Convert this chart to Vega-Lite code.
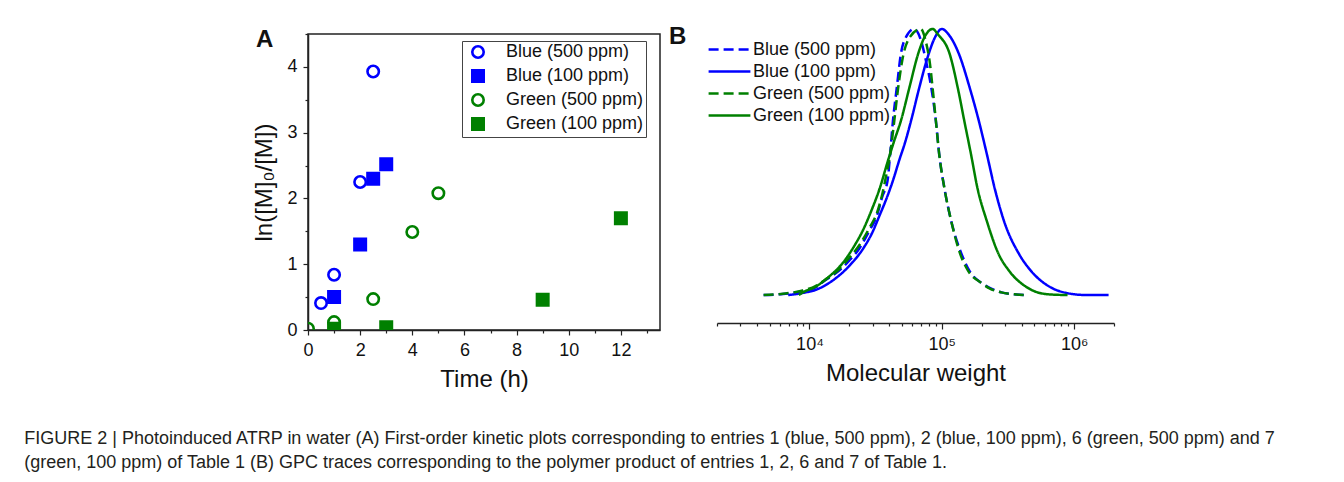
{
  "$schema": "https://vega.github.io/schema/vega-lite/v6.json",
  "padding": {"left": 24, "top": 23, "right": 5, "bottom": 5},
  "background": "white",
  "config": {
    "font": "Liberation Sans",
    "axis": {"domainColor": "#222", "tickColor": "#222", "labelColor": "#111", "titleColor": "#111", "titleFontWeight": "normal", "grid": false, "domainWidth": 1.5, "tickWidth": 1.2},
    "legend": {"labelColor": "#111"}
  },
  "title": {
    "text": [
      "FIGURE 2 | Photoinduced ATRP in water (A) First-order kinetic plots corresponding to entries 1 (blue, 500 ppm), 2 (blue, 100 ppm), 6 (green, 500 ppm) and 7",
      "(green, 100 ppm) of Table 1 (B) GPC traces corresponding to the polymer product of entries 1, 2, 6 and 7 of Table 1."
    ],
    "orient": "bottom",
    "anchor": "start",
    "fontSize": 18,
    "fontWeight": "normal",
    "lineHeight": 24,
    "color": "#231f20",
    "offset": 38,
    "dx": -228
  },
  "bounds": "flush",
  "spacing": 57,
  "resolve": {
    "scale": {"color": "independent", "strokeDash": "independent", "stroke": "independent", "fill": "independent", "shape": "independent"},
    "legend": {"color": "independent", "strokeDash": "independent", "stroke": "independent", "fill": "independent", "shape": "independent"}
  },
  "hconcat": [
    {
      "width": 352,
      "height": 296,
      "title": {"text": "A", "anchor": "start", "frame": "group", "dx": -52, "fontSize": 24, "fontWeight": "bold", "baseline": "alphabetic", "offset": 0, "dy": 38, "color": "#111"},
      "view": {"stroke": "#222", "strokeWidth": 1.5},
      "data": {"values": [
        {"t": 0.5, "v": 0.41, "series": "Blue (500 ppm)"},
        {"t": 1, "v": 0.84, "series": "Blue (500 ppm)"},
        {"t": 2, "v": 2.25, "series": "Blue (500 ppm)"},
        {"t": 2.5, "v": 3.93, "series": "Blue (500 ppm)"},
        {"t": 1, "v": 0.5, "series": "Blue (100 ppm)"},
        {"t": 2, "v": 1.3, "series": "Blue (100 ppm)"},
        {"t": 2.5, "v": 2.3, "series": "Blue (100 ppm)"},
        {"t": 3, "v": 2.52, "series": "Blue (100 ppm)"},
        {"t": 0, "v": 0.02, "series": "Green (500 ppm)"},
        {"t": 1, "v": 0.12, "series": "Green (500 ppm)"},
        {"t": 2.5, "v": 0.47, "series": "Green (500 ppm)"},
        {"t": 4, "v": 1.49, "series": "Green (500 ppm)"},
        {"t": 5, "v": 2.08, "series": "Green (500 ppm)"},
        {"t": 1, "v": 0.02, "series": "Green (100 ppm)"},
        {"t": 3, "v": 0.04, "series": "Green (100 ppm)"},
        {"t": 9, "v": 0.46, "series": "Green (100 ppm)"},
        {"t": 12, "v": 1.7, "series": "Green (100 ppm)"}
      ]},
      "mark": {"type": "point", "clip": true, "strokeWidth": 2.6, "opacity": 1, "size": 130},
      "encoding": {
        "x": {"field": "t", "type": "quantitative", "scale": {"domain": [0, 13.5], "nice": false, "zero": false},
          "axis": {"title": "Time (h)", "values": [0,1,2,3,4,5,6,7,8,9,10,11,12,13], "labelExpr": "datum.value % 2 === 0 ? datum.label : ''",
            "tickSize": {"condition": {"test": "datum.value % 2 === 1", "value": 3}, "value": 5},
            "labelFontSize": 18, "titleFontSize": 24, "labelPadding": 6, "titlePadding": 8, "labelFlush": false}},
        "y": {"field": "v", "type": "quantitative", "scale": {"domain": [0, 4.5], "nice": false},
          "axis": {"title": "ln([M]₀/[M])", "values": [0,0.5,1,1.5,2,2.5,3,3.5,4,4.5], "labelExpr": "datum.value % 1 === 0 ? format(datum.value, 'd') : ''",
            "tickSize": {"condition": {"test": "datum.value % 1 !== 0", "value": 3}, "value": 5},
            "labelFontSize": 18, "titleFontSize": 24, "labelPadding": 6, "titlePadding": 10, "labelFlush": false}},
        "shape": {"field": "series", "type": "nominal",
          "scale": {"domain": ["Blue (500 ppm)", "Blue (100 ppm)", "Green (500 ppm)", "Green (100 ppm)"], "range": ["circle", "square", "circle", "square"]},
          "legend": {"title": null, "orient": "none", "legendX": 154, "legendY": 7, "strokeColor": "#444", "fillColor": "white", "padding": 2, "symbolOffset": 5, "labelFontSize": 18, "symbolSize": 130, "symbolStrokeWidth": 2.6, "rowPadding": 2, "labelOffset": 19, "labelLimit": 300}},
        "stroke": {"field": "series", "type": "nominal",
          "scale": {"domain": ["Blue (500 ppm)", "Blue (100 ppm)", "Green (500 ppm)", "Green (100 ppm)"], "range": ["#0000ff", "#0000ff", "#008000", "#008000"]},
          "legend": {"title": null, "orient": "none", "legendX": 154, "legendY": 7, "strokeColor": "#444", "fillColor": "white", "padding": 2, "symbolOffset": 5, "labelFontSize": 18, "symbolSize": 130, "symbolStrokeWidth": 2.6, "rowPadding": 2, "labelOffset": 19, "labelLimit": 300}},
        "fill": {"field": "series", "type": "nominal",
          "scale": {"domain": ["Blue (500 ppm)", "Blue (100 ppm)", "Green (500 ppm)", "Green (100 ppm)"], "range": ["transparent", "#0000ff", "transparent", "#008000"]},
          "legend": {"title": null, "orient": "none", "legendX": 154, "legendY": 7, "strokeColor": "#444", "fillColor": "white", "padding": 2, "symbolOffset": 5, "labelFontSize": 18, "symbolSize": 130, "symbolStrokeWidth": 2.6, "rowPadding": 2, "labelOffset": 19, "labelLimit": 300}}
      }
    },
    {
      "width": 397,
      "height": 289,
      "title": {"text": "B", "anchor": "start", "frame": "group", "dx": -48, "fontSize": 24, "fontWeight": "bold", "baseline": "alphabetic", "offset": 0, "dy": 44, "color": "#111"},
      "view": {"stroke": null},
      "data": {"values": [
        {"mw": 4500, "w": 0, "trace": "Blue (500 ppm)"},
        {"mw": 6300, "w": 0.004, "trace": "Blue (500 ppm)"},
        {"mw": 8900, "w": 0.015, "trace": "Blue (500 ppm)"},
        {"mw": 11200, "w": 0.03, "trace": "Blue (500 ppm)"},
        {"mw": 12900, "w": 0.053, "trace": "Blue (500 ppm)"},
        {"mw": 16600, "w": 0.09, "trace": "Blue (500 ppm)"},
        {"mw": 20000, "w": 0.13, "trace": "Blue (500 ppm)"},
        {"mw": 24000, "w": 0.178, "trace": "Blue (500 ppm)"},
        {"mw": 28200, "w": 0.24, "trace": "Blue (500 ppm)"},
        {"mw": 32400, "w": 0.3, "trace": "Blue (500 ppm)"},
        {"mw": 35500, "w": 0.37, "trace": "Blue (500 ppm)"},
        {"mw": 38900, "w": 0.43, "trace": "Blue (500 ppm)"},
        {"mw": 40700, "w": 0.53, "trace": "Blue (500 ppm)"},
        {"mw": 42700, "w": 0.654, "trace": "Blue (500 ppm)"},
        {"mw": 45700, "w": 0.78, "trace": "Blue (500 ppm)"},
        {"mw": 49000, "w": 0.905, "trace": "Blue (500 ppm)"},
        {"mw": 53700, "w": 0.97, "trace": "Blue (500 ppm)"},
        {"mw": 61700, "w": 1.0, "trace": "Blue (500 ppm)"},
        {"mw": 69200, "w": 0.96, "trace": "Blue (500 ppm)"},
        {"mw": 75900, "w": 0.88, "trace": "Blue (500 ppm)"},
        {"mw": 83200, "w": 0.78, "trace": "Blue (500 ppm)"},
        {"mw": 90200, "w": 0.654, "trace": "Blue (500 ppm)"},
        {"mw": 95500, "w": 0.53, "trace": "Blue (500 ppm)"},
        {"mw": 104700, "w": 0.4, "trace": "Blue (500 ppm)"},
        {"mw": 117500, "w": 0.28, "trace": "Blue (500 ppm)"},
        {"mw": 141300, "w": 0.153, "trace": "Blue (500 ppm)"},
        {"mw": 162200, "w": 0.09, "trace": "Blue (500 ppm)"},
        {"mw": 199500, "w": 0.045, "trace": "Blue (500 ppm)"},
        {"mw": 223900, "w": 0.03, "trace": "Blue (500 ppm)"},
        {"mw": 281800, "w": 0.01, "trace": "Blue (500 ppm)"},
        {"mw": 354800, "w": 0.003, "trace": "Blue (500 ppm)"},
        {"mw": 446700, "w": 0, "trace": "Blue (500 ppm)"},
        {"mw": 6900, "w": 0, "trace": "Blue (100 ppm)"},
        {"mw": 8900, "w": 0.008, "trace": "Blue (100 ppm)"},
        {"mw": 11200, "w": 0.02, "trace": "Blue (100 ppm)"},
        {"mw": 14800, "w": 0.053, "trace": "Blue (100 ppm)"},
        {"mw": 20000, "w": 0.11, "trace": "Blue (100 ppm)"},
        {"mw": 25700, "w": 0.178, "trace": "Blue (100 ppm)"},
        {"mw": 29500, "w": 0.23, "trace": "Blue (100 ppm)"},
        {"mw": 33900, "w": 0.3, "trace": "Blue (100 ppm)"},
        {"mw": 38000, "w": 0.36, "trace": "Blue (100 ppm)"},
        {"mw": 42700, "w": 0.43, "trace": "Blue (100 ppm)"},
        {"mw": 47900, "w": 0.51, "trace": "Blue (100 ppm)"},
        {"mw": 52500, "w": 0.57, "trace": "Blue (100 ppm)"},
        {"mw": 58900, "w": 0.66, "trace": "Blue (100 ppm)"},
        {"mw": 67600, "w": 0.78, "trace": "Blue (100 ppm)"},
        {"mw": 79400, "w": 0.905, "trace": "Blue (100 ppm)"},
        {"mw": 89100, "w": 0.97, "trace": "Blue (100 ppm)"},
        {"mw": 100000, "w": 1.0, "trace": "Blue (100 ppm)"},
        {"mw": 112200, "w": 0.98, "trace": "Blue (100 ppm)"},
        {"mw": 134900, "w": 0.905, "trace": "Blue (100 ppm)"},
        {"mw": 162200, "w": 0.78, "trace": "Blue (100 ppm)"},
        {"mw": 190500, "w": 0.654, "trace": "Blue (100 ppm)"},
        {"mw": 218800, "w": 0.53, "trace": "Blue (100 ppm)"},
        {"mw": 251200, "w": 0.4, "trace": "Blue (100 ppm)"},
        {"mw": 295100, "w": 0.278, "trace": "Blue (100 ppm)"},
        {"mw": 384600, "w": 0.153, "trace": "Blue (100 ppm)"},
        {"mw": 473200, "w": 0.09, "trace": "Blue (100 ppm)"},
        {"mw": 676100, "w": 0.027, "trace": "Blue (100 ppm)"},
        {"mw": 891300, "w": 0.007, "trace": "Blue (100 ppm)"},
        {"mw": 1000000, "w": 0.003, "trace": "Blue (100 ppm)"},
        {"mw": 1259000, "w": 0, "trace": "Blue (100 ppm)"},
        {"mw": 1820000, "w": 0, "trace": "Blue (100 ppm)"},
        {"mw": 4500, "w": 0, "trace": "Green (500 ppm)"},
        {"mw": 6300, "w": 0.005, "trace": "Green (500 ppm)"},
        {"mw": 8900, "w": 0.017, "trace": "Green (500 ppm)"},
        {"mw": 11200, "w": 0.035, "trace": "Green (500 ppm)"},
        {"mw": 12900, "w": 0.055, "trace": "Green (500 ppm)"},
        {"mw": 16600, "w": 0.095, "trace": "Green (500 ppm)"},
        {"mw": 20000, "w": 0.14, "trace": "Green (500 ppm)"},
        {"mw": 24000, "w": 0.19, "trace": "Green (500 ppm)"},
        {"mw": 28200, "w": 0.25, "trace": "Green (500 ppm)"},
        {"mw": 32400, "w": 0.31, "trace": "Green (500 ppm)"},
        {"mw": 35500, "w": 0.38, "trace": "Green (500 ppm)"},
        {"mw": 38000, "w": 0.45, "trace": "Green (500 ppm)"},
        {"mw": 40700, "w": 0.53, "trace": "Green (500 ppm)"},
        {"mw": 43700, "w": 0.654, "trace": "Green (500 ppm)"},
        {"mw": 46800, "w": 0.78, "trace": "Green (500 ppm)"},
        {"mw": 51300, "w": 0.905, "trace": "Green (500 ppm)"},
        {"mw": 57500, "w": 0.97, "trace": "Green (500 ppm)"},
        {"mw": 69200, "w": 1.0, "trace": "Green (500 ppm)"},
        {"mw": 75900, "w": 0.95, "trace": "Green (500 ppm)"},
        {"mw": 81300, "w": 0.87, "trace": "Green (500 ppm)"},
        {"mw": 85100, "w": 0.78, "trace": "Green (500 ppm)"},
        {"mw": 90200, "w": 0.654, "trace": "Green (500 ppm)"},
        {"mw": 95500, "w": 0.53, "trace": "Green (500 ppm)"},
        {"mw": 104700, "w": 0.4, "trace": "Green (500 ppm)"},
        {"mw": 117500, "w": 0.28, "trace": "Green (500 ppm)"},
        {"mw": 138000, "w": 0.153, "trace": "Green (500 ppm)"},
        {"mw": 158500, "w": 0.09, "trace": "Green (500 ppm)"},
        {"mw": 199500, "w": 0.045, "trace": "Green (500 ppm)"},
        {"mw": 229100, "w": 0.025, "trace": "Green (500 ppm)"},
        {"mw": 281800, "w": 0.01, "trace": "Green (500 ppm)"},
        {"mw": 354800, "w": 0.003, "trace": "Green (500 ppm)"},
        {"mw": 416900, "w": 0, "trace": "Green (500 ppm)"},
        {"mw": 8300, "w": 0, "trace": "Green (100 ppm)"},
        {"mw": 8900, "w": 0.01, "trace": "Green (100 ppm)"},
        {"mw": 11000, "w": 0.03, "trace": "Green (100 ppm)"},
        {"mw": 14100, "w": 0.07, "trace": "Green (100 ppm)"},
        {"mw": 17800, "w": 0.12, "trace": "Green (100 ppm)"},
        {"mw": 21400, "w": 0.178, "trace": "Green (100 ppm)"},
        {"mw": 25700, "w": 0.25, "trace": "Green (100 ppm)"},
        {"mw": 29500, "w": 0.32, "trace": "Green (100 ppm)"},
        {"mw": 33900, "w": 0.4, "trace": "Green (100 ppm)"},
        {"mw": 38900, "w": 0.5, "trace": "Green (100 ppm)"},
        {"mw": 43700, "w": 0.58, "trace": "Green (100 ppm)"},
        {"mw": 49000, "w": 0.654, "trace": "Green (100 ppm)"},
        {"mw": 56900, "w": 0.78, "trace": "Green (100 ppm)"},
        {"mw": 66100, "w": 0.905, "trace": "Green (100 ppm)"},
        {"mw": 74100, "w": 0.97, "trace": "Green (100 ppm)"},
        {"mw": 85100, "w": 1.0, "trace": "Green (100 ppm)"},
        {"mw": 93300, "w": 0.98, "trace": "Green (100 ppm)"},
        {"mw": 114800, "w": 0.905, "trace": "Green (100 ppm)"},
        {"mw": 131800, "w": 0.78, "trace": "Green (100 ppm)"},
        {"mw": 147900, "w": 0.654, "trace": "Green (100 ppm)"},
        {"mw": 166000, "w": 0.53, "trace": "Green (100 ppm)"},
        {"mw": 186200, "w": 0.4, "trace": "Green (100 ppm)"},
        {"mw": 218800, "w": 0.278, "trace": "Green (100 ppm)"},
        {"mw": 269200, "w": 0.153, "trace": "Green (100 ppm)"},
        {"mw": 323600, "w": 0.09, "trace": "Green (100 ppm)"},
        {"mw": 446700, "w": 0.027, "trace": "Green (100 ppm)"},
        {"mw": 631000, "w": 0.003, "trace": "Green (100 ppm)"},
        {"mw": 891300, "w": 0, "trace": "Green (100 ppm)"}
      ]},
      "mark": {"type": "line", "strokeWidth": 2.5, "interpolate": "monotone"},
      "encoding": {
        "x": {"field": "mw", "type": "quantitative", "scale": {"type": "log", "domain": [2000, 2000000], "nice": false},
          "axis": {"title": "Molecular weight",
            "values": [2000,3000,4000,5000,6000,7000,8000,9000,10000,20000,30000,40000,50000,60000,70000,80000,90000,100000,200000,300000,400000,500000,600000,700000,800000,900000,1000000,2000000],
            "labelExpr": "datum.value == 10000 ? '10⁴' : datum.value == 100000 ? '10⁵' : datum.value == 1000000 ? '10⁶' : ''",
            "tickSize": {"condition": {"test": "datum.value == 10000 || datum.value == 100000 || datum.value == 1000000", "value": 6}, "value": 3},
            "labelFontSize": 18, "titleFontSize": 24, "labelPadding": 6, "titlePadding": 8, "labelFlush": false, "labelOverlap": false}},
        "y": {"field": "w", "type": "quantitative", "scale": {"domain": [-0.105, 0.981], "nice": false, "zero": false}, "axis": null},
        "color": {"field": "trace", "type": "nominal",
          "scale": {"domain": ["Blue (500 ppm)", "Blue (100 ppm)", "Green (500 ppm)", "Green (100 ppm)"], "range": ["#0000ff", "#0000ff", "#008000", "#008000"]},
          "legend": {"title": null, "orient": "none", "legendX": 0, "legendY": 3, "padding": 0, "labelFontSize": 18, "symbolType": "M -1.9 0 L 1.9 0", "symbolSize": 484, "symbolStrokeWidth": 2.5, "rowPadding": 0, "labelOffset": 11, "labelLimit": 300}},
        "strokeDash": {"field": "trace", "type": "nominal",
          "scale": {"domain": ["Blue (500 ppm)", "Blue (100 ppm)", "Green (500 ppm)", "Green (100 ppm)"], "range": [[10, 5], [1, 0], [10, 5], [1, 0]]},
          "legend": {"title": null, "orient": "none", "legendX": 0, "legendY": 3, "padding": 0, "labelFontSize": 18, "symbolType": "M -1.9 0 L 1.9 0", "symbolSize": 484, "symbolStrokeWidth": 2.5, "rowPadding": 0, "labelOffset": 11, "labelLimit": 300}}
      }
    }
  ]
}
